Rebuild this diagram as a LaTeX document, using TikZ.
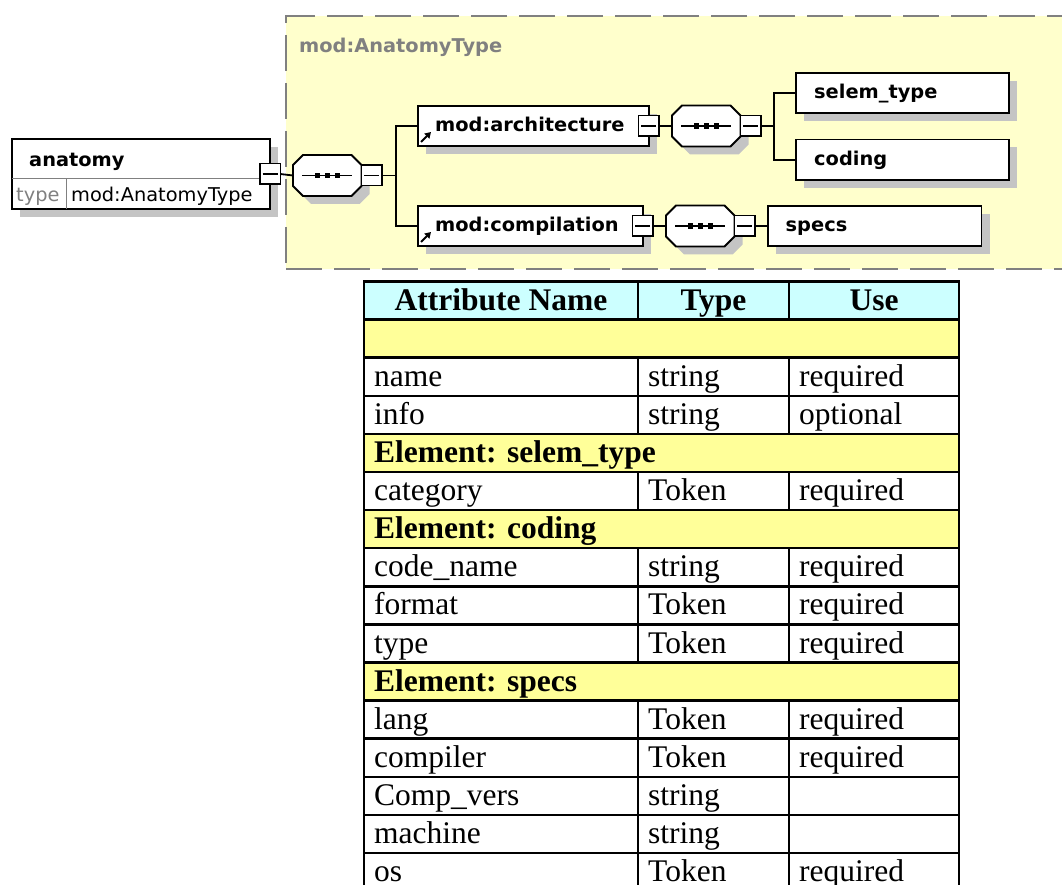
\documentclass[tikz,border=0pt]{standalone}
\usepackage{fontspec}
\setmainfont{Liberation Serif}
\newfontfamily\dejavu[FakeStretch=1.02]{DejaVu Sans}
\usetikzlibrary{shadows,arrows.meta}

\definecolor{groupfill}{HTML}{FFFFCC}
\definecolor{groupline}{HTML}{808080}
\definecolor{shadowgray}{HTML}{C4C4C4}
\definecolor{headcyan}{HTML}{CCFFFF}
\definecolor{rowyellow}{HTML}{FFFF99}

\tikzset{
  boxshadow/.style={drop shadow={shadow xshift=8pt, shadow yshift=-8pt, fill=shadowgray, opacity=1}},
  elbox/.style={rectangle, draw, line width=1.8, fill=white, inner sep=0, outer sep=0,
    anchor=north west, minimum height=40, boxshadow},
  collapse/.style={rectangle, draw, line width=1.5, fill=white, inner sep=0, outer sep=0,
    minimum size=20.5,
    path picture={\draw[line width=1.5] ([xshift=-7.5pt]path picture bounding box.center)
       -- ([xshift=7.5pt]path picture bounding box.center);}},
  seqframe/.style={rectangle, inner sep=0, outer sep=0, minimum width=68.5,
    minimum height=41, anchor=north west},
  link/.style={line width=1.8},
  refmark/.style={line width=2, -{Triangle[length=6pt,width=7pt]}},
  innerline/.style={line width=1, draw=groupline},
  lbl/.style={font=\dejavu\bfseries\fontsize{19}{21}\selectfont, inner sep=0, anchor=base west},
  lblreg/.style={font=\dejavu\fontsize{19}{21}\selectfont, inner sep=0, anchor=base west},
  tblline/.style={line width=2.5, line cap=rect},
  celltxt/.style={font=\fontsize{31.5}{36}\selectfont, inner sep=0, anchor=base west},
  cellbold/.style={font=\bfseries\fontsize{31.5}{36}\selectfont, inner sep=0, anchor=base west},
  headtxt/.style={font=\bfseries\fontsize{31.5}{36}\selectfont, inner sep=0, anchor=base},
}

% octagonal "sequence" compositor drawn on a named frame node
\newcommand\octopath[2]{%
  ([shift={(10pt,0pt)}#2]#1.north west) -- ([shift={(-10pt,0pt)}#2]#1.north east)
  -- ([shift={(0pt,-10pt)}#2]#1.north east) -- ([shift={(0pt,10pt)}#2]#1.south east)
  -- ([shift={(-10pt,0pt)}#2]#1.south east) -- ([shift={(10pt,0pt)}#2]#1.south west)
  -- ([shift={(0pt,10pt)}#2]#1.south west) -- ([shift={(0pt,-10pt)}#2]#1.north west) -- cycle}
\newcommand\seqdraw[1]{%
  \fill[shadowgray] \octopath{#1}{,xshift=8pt,yshift=-8pt};
  \draw[line width=1.8, fill=white] \octopath{#1}{};
  \draw[line width=1.5] ([xshift=-25pt]#1.center) -- ([xshift=25pt]#1.center);
  \foreach \d in {-10,0,10}
    \fill[black] ([xshift=\d pt]#1.center) ++(-2.7pt,-2.7pt) rectangle ++(5.4pt,5.4pt);}

\begin{document}
\begin{tikzpicture}[x=1pt,y=-1pt]
\useasboundingbox (0,0) rectangle (1062,885);

% ---------- content model of mod:AnatomyType ----------
\node[rectangle, draw=groupline, line width=2, dash pattern=on 36pt off 12pt,
      fill=groupfill, inner sep=0, outer sep=0, anchor=north west,
      minimum width=800, minimum height=253] (group) at (286,16) {};
\node[lbl, text=groupline] (grouplabel) at (299,52.5) {mod:AnatomyType};

% root element
\node[elbox, minimum width=258, minimum height=70] (anat) at (12,139) {};
\draw[innerline] ([yshift=-40pt]anat.north west) -- ([yshift=-40pt]anat.north east);
\draw[innerline] ([xshift=54pt,yshift=-40pt]anat.north west) -- ([xshift=54pt]anat.south west);
\node[lbl] (anattxt) at (29,166.5) {anatomy};
\node[lblreg, text=groupline] (anattype) at (16,202) {type};
\node[lblreg] (anattypeval) at (71,202) {mod:AnatomyType};
\node[collapse] (mAnat) at (anat.east) {};

% first sequence
\node[seqframe] (seq1) at (293,155) {};
\seqdraw{seq1}
\node[collapse, anchor=west] (mSeq1) at (seq1.east) {};
\coordinate (trunkA) at (396,175.5);

% referenced children
\node[elbox, minimum width=230.6] (arch) at (418,106) {};
\node[lbl] (archtxt) at (435,132) {mod:architecture};
\draw[refmark] ([shift={(3pt,4pt)}]arch.south west) -- ++(10,-10);
\node[collapse] (mArch) at (arch.east) {};

\node[elbox, minimum width=224.7] (comp) at (418,206) {};
\node[lbl] (comptxt) at (435,232) {mod:compilation};
\draw[refmark] ([shift={(3pt,4pt)}]comp.south west) -- ++(10,-10);
\node[collapse] (mComp) at (comp.east) {};

% sequence under mod:architecture
\node[seqframe] (seq2) at (672,105.5) {};
\seqdraw{seq2}
\node[collapse, anchor=west] (mSeq2) at (seq2.east) {};
\coordinate (trunkB) at (774,126);

\node[elbox, minimum width=213.3] (selem) at (796,73) {};
\node[lbl] (selemtxt) at (814,99) {selem\_type};
\node[elbox, minimum width=213.3, minimum height=40.5] (coding) at (796,139.5) {};
\node[lbl] (codingtxt) at (814,165.5) {coding};

% sequence under mod:compilation
\node[seqframe] (seq3) at (666,205.5) {};
\seqdraw{seq3}
\node[collapse, anchor=west] (mSeq3) at (seq3.east) {};
\node[elbox, minimum width=213.5] (specs) at (768,206) {};
\node[lbl] (specstxt) at (785.5,232) {specs};

% connectors
\draw[link] (mAnat.east) -- (seq1.west);
\draw[link] (mSeq1.east) -- (trunkA);
\draw[link] (arch.west) -| (trunkA) |- (comp.west);
\draw[link] (mArch.east) -- (seq2.west);
\draw[link] (mSeq2.east) -- (trunkB);
\draw[link] (selem.west) -| (trunkB) |- (coding.west);
\draw[link] (mComp.east) -- (seq3.west);
\draw[link] (mSeq3.east) -- (specs.west);

% ---------- attribute table ----------
\fill[headcyan] (364,281.5) rectangle (959,319.6);
\foreach \k in {1,4,6,10}
  \fill[rowyellow] (364,{281.5+38.1*\k}) rectangle (959,{281.5+38.1*(\k+1)});
\foreach \k in {0,...,16}
  \draw[tblline] (364,{281.5+38.1*\k}) -- (959,{281.5+38.1*\k});
\draw[tblline] (364,281.5) -- (364,891.1);
\draw[tblline] (959,281.5) -- (959,891.1);
\foreach \k in {0,2,3,5,7,8,9,11,12,13,14,15}{
  \draw[tblline] (638,{281.5+38.1*\k}) -- (638,{281.5+38.1*(\k+1)});
  \draw[tblline] (789,{281.5+38.1*\k}) -- (789,{281.5+38.1*(\k+1)});
}

\node[headtxt] (hName) at (501,310.1) {Attribute Name};
\node[headtxt] (hType) at (713.5,310.1) {Type};
\node[headtxt] (hUse) at (874,310.1) {Use};

\foreach \k/\na/\ty in {2/name/string, 3/info/string, 5/category/Token,
    7/code\_name/string, 8/format/Token, 9/type/Token, 11/lang/Token,
    12/compiler/Token, 13/Comp\_vers/string, 14/machine/string, 15/os/Token}{
  \node[celltxt] (r\k-a) at (374,{281.5+38.1*(\k+1)-9.5}) {\na};
  \node[celltxt] (r\k-b) at (648,{281.5+38.1*(\k+1)-9.5}) {\ty};
}
\foreach \k/\us in {2/required, 3/optional, 5/required, 7/required, 8/required,
    9/required, 11/required, 12/required, 15/required}
  \node[celltxt] (r\k-c) at (799,{281.5+38.1*(\k+1)-9.5}) {\us};

\foreach \k/\el in {4/selem\_type, 6/coding, 10/specs}
  \node[cellbold] (e\k) at (374,{281.5+38.1*(\k+1)-9.5}) {Element: \el};
\end{tikzpicture}
\end{document}
